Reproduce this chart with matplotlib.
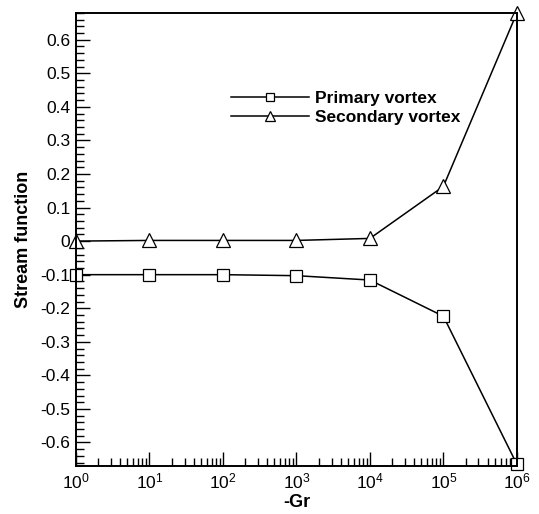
import matplotlib as mpl
mpl.use('Agg')
import matplotlib.pyplot as plt
import matplotlib.ticker as mtick
import numpy as np

mpl.rcParams['font.family'] = 'Liberation Sans'
mpl.rcParams['mathtext.fontset'] = 'custom'
mpl.rcParams['mathtext.rm'] = 'Liberation Sans'
mpl.rcParams['mathtext.it'] = 'Liberation Sans'
mpl.rcParams['axes.unicode_minus'] = False

# data
gr = [1e0, 1e1, 1e2, 1e3, 1e4, 1e5, 1e6]
primary = [-0.100, -0.100, -0.100, -0.103, -0.116, -0.224, -0.665]
secondary = [0.000, 0.002, 0.002, 0.002, 0.008, 0.163, 0.680]

fig = plt.figure(figsize=(5.39, 5.14), dpi=100)
ax = fig.add_axes([0.141, 0.0934, 0.818, 0.8816])

ax.plot(gr, primary, color='black', lw=1.1, marker='s', ms=8.5,
        mfc='white', mec='black', mew=0.9, clip_on=False, label='Primary vortex')
ax.plot(gr, secondary, color='black', lw=1.1, marker='^', ms=9.5,
        mfc='white', mec='black', mew=0.9, clip_on=False, label='Secondary vortex')

ax.set_xscale('log')
ax.set_xlim(1, 1e6)
ax.set_ylim(-0.67, 0.68)

# major ticks only at the decades inside the range
ax.xaxis.set_major_locator(mtick.FixedLocator(gr))
ax.xaxis.set_minor_locator(mtick.LogLocator(base=10, subs=np.arange(2, 10), numticks=10))
ax.xaxis.set_major_formatter(mtick.LogFormatterSciNotation())
ax.xaxis.set_minor_formatter(mtick.NullFormatter())
ax.yaxis.set_major_locator(mtick.MultipleLocator(0.1))
ax.yaxis.set_minor_locator(mtick.MultipleLocator(0.02))
ax.yaxis.set_major_formatter(mtick.FuncFormatter(lambda v, p: '0' if abs(v) < 1e-9 else '%.1f' % v))

ax.tick_params(which='both', direction='in', top=False, right=False, labelsize=12.5, width=1.0)
ax.tick_params(which='major', length=10, pad=4)
ax.tick_params(which='minor', length=5.5)
for s in ax.spines.values():
    s.set_linewidth(1.4)

ax.set_xlabel('-Gr', fontsize=13, fontweight='bold', labelpad=2)
ax.set_ylabel('Stream function', fontsize=13, fontweight='bold', labelpad=6)

leg = ax.legend(loc='upper left', bbox_to_anchor=(0.315, 0.862), frameon=False,
                handlelength=4.5, handletextpad=0.35, labelspacing=0.22,
                markerscale=0.75, prop={'weight': 'bold', 'size': 12.5})

fig.savefig('out.png', dpi=100)
